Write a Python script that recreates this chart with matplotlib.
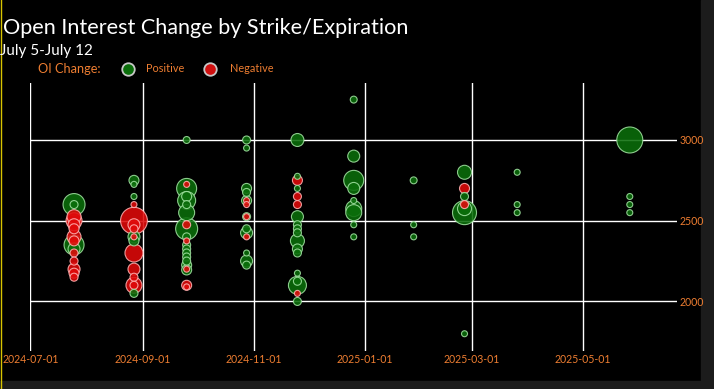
import numpy as np
import matplotlib
matplotlib.use("Agg")
import matplotlib.pyplot as plt
import matplotlib.dates as mdates
from matplotlib.lines import Line2D
from matplotlib.patches import Rectangle

# option expirations (columns of bubbles)
expirations = ["2024-07-25", "2024-08-27", "2024-09-25", "2024-10-28", "2024-11-25",
               "2024-12-26", "2025-01-28", "2025-02-25", "2025-03-26", "2025-05-27"]

# one entry per bubble: expiration index, strike, OI change (contracts)
exp_idx = [0]*15 + [1]*16 + [2]*21 + [3]*15 + [4]*18 + [5]*9 + [6]*3 + [7]*7 + [8]*3 + [9]*4
strikes = [
    2600, 2600, 2525, 2500, 2475, 2450, 2400, 2375, 2350, 2325, 2300, 2250, 2200, 2175, 2150,
    2750, 2725, 2650, 2600, 2500, 2475, 2450, 2400, 2375, 2400, 2300, 2200, 2150, 2100, 2100, 2050,
    3000, 2725, 2700, 2650, 2625, 2600, 2550, 2475, 2450, 2400, 2375, 2350, 2325, 2300, 2275,
    2250, 2225, 2200, 2195, 2100, 2090,
    3000, 2950, 2700, 2675, 2625, 2625, 2600, 2525, 2525, 2425, 2450, 2400, 2300, 2250, 2225,
    3000, 2775, 2750, 2700, 2650, 2600, 2525, 2475, 2450, 2425, 2375, 2325, 2300, 2175, 2100,
    2125, 2050, 2000,
    3250, 2900, 2750, 2700, 2625, 2575, 2550, 2475, 2400,
    2750, 2475, 2400,
    2800, 2700, 2650, 2600, 2550, 2575, 1800,
    2800, 2600, 2550,
    3000, 2650, 2600, 2550,
]
oi_change = [
    1210, 160, -490, -640, -360, -250, -490, -250, 1000, 360, -160, -160, -360, -250, -160,
    250, 90, 90, -90, -1800, -360, -160, 360, 250, -90, -810, -360, -160, -640, -160, 160,
    120, -90, 1000, 250, 810, 160, 640, -160, 1210, 160, -90, 160, 160, 160, 160,
    160, 250, -90, 250, -250, -90,
    160, 90, 250, 160, 250, -90, -90, -90, 160, 360, 160, -90, 90, 360, 160,
    420, 90, -250, 90, -160, -160, 360, 160, 160, 160, 490, 250, 160, 90, 810,
    160, -90, 160,
    120, 360, 1000, 360, 90, 640, 640, 90, 90,
    120, 90, 90,
    490, -250, 160, -160, 1440, 490, 90,
    90, 90, 90,
    1690, 90, 90, 90,
]

orange = "#ED7D31"
green = "#0b6e0b"
red = "#e00a0a"

plt.rcParams['font.family'] = ['Lato', 'DejaVu Sans']

fig = plt.figure(figsize=(7.14, 3.89), dpi=100, facecolor="black")
ax = fig.add_axes([30/714, 1 - 351/389, 647/714, 268/389], facecolor="black")

x = np.array([np.datetime64(expirations[i]) for i in exp_idx]).astype("datetime64[D]").astype(object)
y = np.array(strikes, dtype=float)
chg = np.array(oi_change, dtype=float)
sizes = np.abs(chg) * 0.2074
order = np.argsort(-np.abs(chg), kind="stable")

face = np.where(chg[order] > 0, green, red)
edge = np.where(chg[order] > 0, "#9fe09f", "#ffb0b0")
ax.scatter(x[order], y[order], s=sizes[order], c=face, edgecolors=edge,
           linewidths=0.8, alpha=0.88, zorder=3)

ax.set_xlim(mdates.datestr2num("2024-06-30 18:00"), mdates.datestr2num("2025-06-22"))
ax.set_ylim(1693, 3353)
ax.set_xticks(mdates.datestr2num(["2024-07-01", "2024-09-01", "2024-11-01",
                                  "2025-01-01", "2025-03-01", "2025-05-01"]))
ax.xaxis.set_major_formatter(mdates.DateFormatter("%Y-%m-%d"))
ax.set_yticks([2000, 2500, 3000])
ax.yaxis.tick_right()
ax.tick_params(length=0, labelcolor=orange, labelsize=7.6, pad=2)
ax.grid(True, color="white", linewidth=1.0, zorder=1)
ax.set_axisbelow(True)
for s in ax.spines.values():
    s.set_visible(False)

# title block
fig.text(3/714, 1 - 34/389, "Open Interest Change by Strike/Expiration",
         color="white", fontsize=15.6)
fig.text(0/714, 1 - 55/389, "July 5-July 12", color="white", fontsize=11)

# legend row
ly = 1 - 69/389
fig.text(38/714, ly, "OI Change:", color=orange, fontsize=9.2, va="center")
fig.add_artist(Line2D([128/714], [ly], marker="o", markersize=9, color=green,
                      markeredgecolor="#c8c8c8", markeredgewidth=1.3,
                      transform=fig.transFigure))
fig.text(146/714, ly, "Positive", color=orange, fontsize=7.8, va="center")
fig.add_artist(Line2D([210/714], [ly], marker="o", markersize=9, color="#d01010",
                      markeredgecolor="#c8c8c8", markeredgewidth=1.3,
                      transform=fig.transFigure))
fig.text(230/714, ly, "Negative", color=orange, fontsize=7.8, va="center")

# frame decorations
fig.add_artist(Rectangle((701/714, 0), 13/714, 1, transform=fig.transFigure,
                         color="#1c1c1c", zorder=0))
fig.add_artist(Rectangle((0, 0), 1, 8/389, transform=fig.transFigure,
                         color="#1c1c1c", zorder=0))
fig.add_artist(Line2D([0.7/714, 0.7/714], [0, 1], color="#d8c400", linewidth=1.0,
                      transform=fig.transFigure))

fig.savefig("out.png", dpi=100, facecolor="black")
